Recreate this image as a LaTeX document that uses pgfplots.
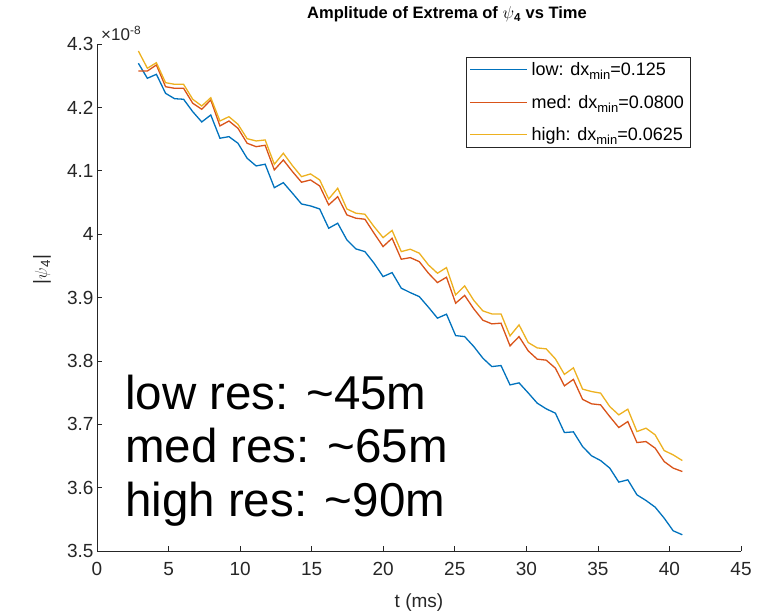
\documentclass[border=0pt]{standalone}
\usepackage{fontspec}
\setmainfont{Liberation Sans}
\usepackage{pgfplots}
\usepackage{pgfplotstable}
\pgfplotsset{compat=1.18}
\definecolor{mblue}{rgb}{0,0.447,0.741}
\definecolor{mred}{rgb}{0.85,0.325,0.098}
\definecolor{myel}{rgb}{0.929,0.694,0.125}
\definecolor{mgray}{rgb}{0.15,0.15,0.15}
\newcommand{\sub}[1]{\raisebox{-0.45ex}{\fontsize{13}{13}\selectfont #1}}

\pgfplotstableread{
t     low     med     high
2.89  4.2696  4.2574  4.2890
3.52  4.2459  4.2574  4.2617
4.15  4.2522  4.2669  4.2705
4.79  4.2222  4.2326  4.2390
5.42  4.2137  4.2301  4.2364
6.05  4.2128  4.2301  4.2364
6.69  4.1932  4.2065  4.2128
7.32  4.1770  4.1970  4.2022
7.95  4.1880  4.2117  4.2153
8.59  4.1513  4.1707  4.1785
9.22  4.1538  4.1785  4.1853
9.85  4.1434  4.1670  4.1733
10.49 4.1197  4.1434  4.1506
11.12 4.1076  4.1380  4.1470
11.75 4.1103  4.1402  4.1486
12.39 4.0733  4.1013  4.1103
13.02 4.0812  4.1170  4.1276
13.66 4.0645  4.0986  4.1080
14.29 4.0476  4.0819  4.0907
14.92 4.0445  4.0855  4.0950
15.56 4.0397  4.0760  4.0855
16.19 4.0093  4.0461  4.0555
16.82 4.0172  4.0591  4.0724
17.46 3.9909  4.0303  4.0397
18.09 3.9767  4.0251  4.0330
18.72 3.9724  4.0235  4.0314
19.36 3.9541  4.0014  4.0118
19.99 3.9330  3.9803  3.9945
20.62 3.9393  3.9935  4.0058
21.26 3.9147  3.9604  3.9724
21.89 3.9077  3.9629  3.9762
22.52 3.9014  3.9566  3.9699
23.16 3.8847  3.9383  3.9514
23.79 3.8674  3.9235  3.9383
24.42 3.8737  3.9320  3.9472
25.06 3.8399  3.8910  3.9041
25.69 3.8383  3.9033  3.9183
26.33 3.8226  3.8820  3.8954
26.96 3.8043  3.8642  3.8789
27.59 3.7910  3.8584  3.8741
28.23 3.7926  3.8595  3.8741
28.86 3.7621  3.8237  3.8394
29.49 3.7653  3.8383  3.8568
30.13 3.7495  3.8158  3.8289
30.76 3.7333  3.8027  3.8205
31.39 3.7243  3.8011  3.8189
32.03 3.7175  3.7885  3.8032
32.66 3.6869  3.7606  3.7787
33.29 3.6880  3.7708  3.7890
33.93 3.6648  3.7393  3.7554
34.56 3.6502  3.7322  3.7516
35.19 3.6427  3.7306  3.7491
35.83 3.6308  3.7121  3.7279
36.46 3.6087  3.6948  3.7148
37.09 3.6123  3.7043  3.7238
37.73 3.5886  3.6711  3.6885
38.36 3.5797  3.6727  3.6938
39.00 3.5692  3.6623  3.6833
39.63 3.5519  3.6412  3.6585
40.26 3.5319  3.6308  3.6517
40.90 3.5256  3.6254  3.6427
}\data

\begin{document}
\begin{tikzpicture}
\path (0,0) rectangle (759pt,614pt);
\begin{axis}[
  name=ax,
  at={(97pt,63pt)}, anchor=south west,
  width=644pt, height=507pt, scale only axis,
  xmin=0, xmax=45, ymin=3.5, ymax=4.3,
  xtick={0,5,10,15,20,25,30,35,40,45},
  ytick={3.5,3.6,3.7,3.8,3.9,4.0,4.1,4.2,4.3},
  yticklabels={3.5,3.6,3.7,3.8,3.9,4,4.1,4.2,4.3},
  axis lines=left,
  axis line style={-, draw=mgray, line width=0.7pt},
  tick align=inside, major tick length=5pt,
  tick style={mgray, line width=0.7pt},
  ticklabel style={font=\fontsize{19}{21}\selectfont, text=mgray},
  xticklabel style={yshift=-8pt},
  /pgf/number format/assume math mode=true,
  title={Amplitude of Extrema of $\psi$\textsubscript{4} vs Time},
  title style={font=\fontsize{16.5}{18}\selectfont\bfseries, at={(axis description cs:0.5,1)}, anchor=base, yshift=19pt, xshift=28pt},
  xlabel={t (ms)},
  xlabel style={font=\fontsize{19}{21}\selectfont, text=mgray, at={(axis description cs:0.5,0)}, anchor=base, yshift=-56pt},
  ylabel={|$\psi$\textsubscript{4}|},
  ylabel style={font=\fontsize{19}{21}\selectfont, text=mgray, at={(axis description cs:-0.0854,0.555)}, anchor=center},
  legend style={at={(0.921,0.974)}, anchor=north east, draw=mgray, line width=0.5pt,
    font=\fontsize{18}{21}\selectfont, row sep=14pt, inner xsep=4pt, inner ysep=3pt},
  legend cell align=left,
  legend image code/.code={\draw[#1, line width=0.7pt] (0pt,0pt) -- (57pt,0pt);},
]
\addplot[mblue, line width=1.3pt] table[x=t, y=low] {\data};
\addlegendentry{\hspace{2pt}low: dx\sub{min}=0.125}
\addplot[mred, line width=1.3pt] table[x=t, y=med] {\data};
\addlegendentry{\hspace{2pt}med: dx\sub{min}=0.0800}
\addplot[myel, line width=1.3pt] table[x=t, y=high] {\data};
\addlegendentry{\hspace{2pt}high: dx\sub{min}=0.0625}
\end{axis}
\node[anchor=south west, font=\fontsize{17}{20}\selectfont, text=mgray, inner sep=0pt] at ([xshift=4pt,yshift=3pt]ax.north west) {×10\textsuperscript{-8}};
\node[anchor=base west, inner sep=0pt, font=\fontsize{47.5}{53}\selectfont] at (125pt,204.7pt) {low res: \textasciitilde 45m};
\node[anchor=base west, inner sep=0pt, font=\fontsize{47.5}{53}\selectfont] at (125pt,151pt) {med res: \textasciitilde 65m};
\node[anchor=base west, inner sep=0pt, font=\fontsize{47.5}{53}\selectfont] at (125pt,97.3pt) {high res: \textasciitilde 90m};
\end{tikzpicture}
\end{document}
